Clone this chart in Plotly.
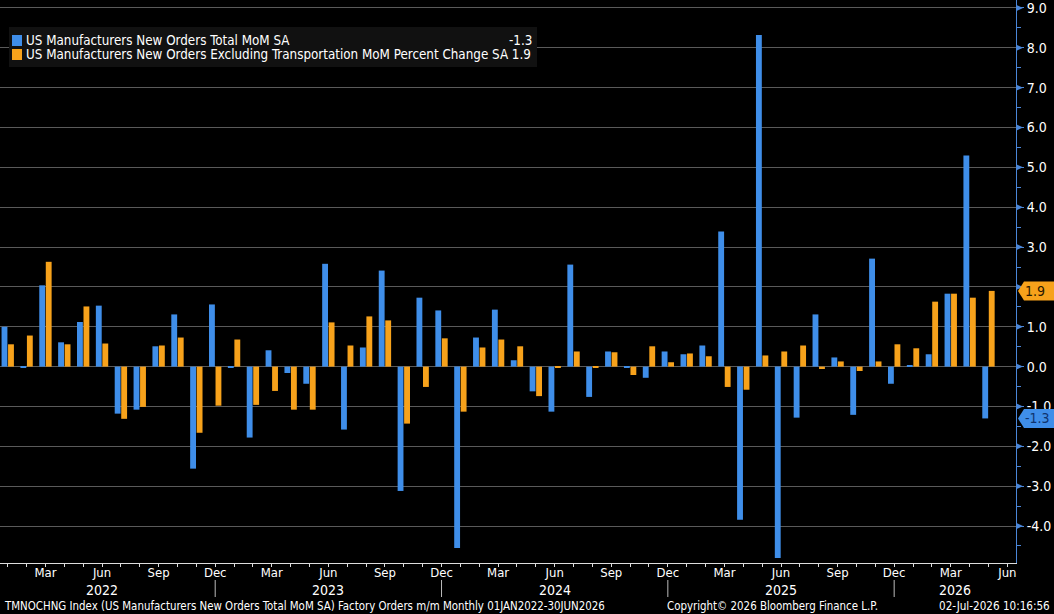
import plotly.graph_objects as go
import pandas as pd

# ---------------- data ----------------
months = pd.date_range("2022-01-01", "2026-05-01", freq="MS")
axis_months = pd.date_range("2022-01-01", "2026-06-01", freq="MS")
total_mom = [1.00, -0.03, 2.04, 0.61, 1.12, 1.53, -1.18, -1.08, 0.51, 1.31, -2.56, 1.56,
             -0.03, -1.78, 0.41, -0.16, -0.43, 2.58, -1.58, 0.48, 2.41, -3.12, 1.73, 1.41,
             -4.55, 0.73, 1.43, 0.16, -0.62, -1.13, 2.56, -0.76, 0.38, -0.01, -0.28, 0.38,
             0.31, 0.53, 3.39, -3.84, 8.32, -4.80, -1.28, 1.31, 0.23, -1.21, 2.71, -0.43,
             0.03, 0.31, 1.83, 5.30, -1.30]
ex_transport = [0.56, 0.78, 2.63, 0.56, 1.51, 0.58, -1.31, -1.01, 0.53, 0.73, -1.66, -0.98,
                0.68, -0.96, -0.61, -1.08, -1.08, 1.11, 0.53, 1.26, 1.16, -1.43, -0.51, 0.71,
                -1.13, 0.48, 0.68, 0.51, -0.74, -0.03, 0.38, -0.02, 0.36, -0.21, 0.51, 0.11,
                0.33, 0.26, -0.51, -0.58, 0.28, 0.38, 0.53, -0.06, 0.13, -0.11, 0.13, 0.56,
                0.46, 1.63, 1.83, 1.73, 1.90]
series_names = ["US Manufacturers New Orders Total MoM SA",
                "US Manufacturers New Orders Excluding Transportation MoM Percent Change SA"]
y_ticks = list(range(-4, 10))
footer_left = "TMNOCHNG Index (US Manufacturers New Orders Total MoM SA) Factory Orders m/m Monthly 01JAN2022-30JUN2026"
footer_mid = "Copyright\u00a9 2026 Bloomberg Finance L.P."
footer_right = "02-Jul-2026 10:16:56"

# ---------------- style ----------------
W, H = 1054, 614
ML, MR, MT, MB = 0, 38, 0, 51
PW, PH = W - ML - MR, H - MT - MB
BLUE = "#3f8ee9"
ORANGE = "#f7a21b"
AXBLUE = "#4a86d8"
GRID = "#5a5a5a"
FONT = "DejaVu Sans Condensed, Liberation Sans Narrow, Arial Narrow, sans-serif"

def px(xp):
    return (xp - ML) / PW

def py(yp):
    return (PH - (yp - MT)) / PH

x = list(range(len(months)))
ax_x = list(range(len(axis_months)))
ticktext = [m.strftime("%b") if m.month in (3, 6, 9, 12) else "" for m in axis_months]

fig = go.Figure()
fig.add_trace(go.Bar(x=x, y=total_mom, name=series_names[0], marker=dict(color=BLUE, line=dict(width=0))))
fig.add_trace(go.Bar(x=x, y=ex_transport, name=series_names[1], marker=dict(color=ORANGE, line=dict(width=0))))

ymax = 9.2
ymin = ymax - PH / 39.85
unit = PH / (ymax - ymin)

shapes = []
annotations = []

# triangle markers on the right axis
th = 3.2 / unit
for v in y_ticks:
    shapes.append(dict(type="path", xref="paper", yref="y",
                       path=f"M 1.0,{v + th} L {px(ML + PW + 7)},{v} L 1.0,{v - th} Z",
                       fillcolor=AXBLUE, line=dict(width=0), layer="above"))

# last value labels
last_vals = [(ex_transport[-1], ORANGE, "#2a1800"), (total_mom[-1], BLUE, "#0f336e")]
def last_label(val, color, txtcolor):
    hh = 9.5 / unit
    x0, x1, x2 = px(ML + PW + 2), px(ML + PW + 8), px(W)
    shapes.append(dict(type="path", xref="paper", yref="y",
                       path=f"M {x0},{val} L {x1},{val + hh} L {x2},{val + hh} L {x2},{val - hh} L {x1},{val - hh} Z",
                       fillcolor=color, line=dict(width=0), layer="above"))
    annotations.append(dict(x=px(ML + PW + 7), y=val, xref="paper", yref="y", text=f"{val:.1f}",
                            showarrow=False, xanchor="left", yanchor="middle",
                            font=dict(family=FONT, size=14, color=txtcolor)))

for v, c, t in last_vals:
    last_label(v, c, t)

# tick labels fully hidden behind a last-value label in the reference
hidden = {round(v) for v, _, _ in last_vals if abs(v - round(v)) < 0.15}
yticktext = ["" if v in hidden else f"{v:.1f}" for v in y_ticks]

# legend box
shapes.append(dict(type="rect", xref="paper", yref="paper", x0=px(9), x1=px(537), y0=py(67), y1=py(27),
                   fillcolor="#111111", line=dict(width=0), layer="above"))
for col, yc in [(BLUE, 40.5), (ORANGE, 54.5)]:
    shapes.append(dict(type="rect", xref="paper", yref="paper", x0=px(12), x1=px(22),
                       y0=py(yc + 5.5), y1=py(yc - 5.5), fillcolor=col, line=dict(width=0), layer="above"))
annotations.append(dict(x=px(24), y=py(40.5), xref="paper", yref="paper", text=series_names[0],
                        showarrow=False, xanchor="left", yanchor="middle",
                        font=dict(family=FONT, size=13.3, color="white")))
annotations.append(dict(x=px(24), y=py(54.5), xref="paper", yref="paper",
                        text=f"{series_names[1]} {ex_transport[-1]:.1f}",
                        showarrow=False, xanchor="left", yanchor="middle",
                        font=dict(family=FONT, size=13.3, color="white")))
annotations.append(dict(x=px(534), y=py(40.5), xref="paper", yref="paper", text=f"{total_mom[-1]:.1f}",
                        showarrow=False, xanchor="right", yanchor="middle",
                        font=dict(family=FONT, size=13.3, color="white")))

# year labels and separators
years = sorted(set(m.year for m in axis_months))
xr0, xr1 = -0.41, 53.46
seps = [i for i, m in enumerate(axis_months) if m.month == 12]
bounds = [xr0 - 0.6] + seps + [xr1]
for k, yr in enumerate(years):
    lo, hi = bounds[k], bounds[k + 1]
    annotations.append(dict(x=(lo + hi) / 2, y=py(590), xref="x", yref="paper", text=str(yr),
                            showarrow=False, xanchor="center", yanchor="middle",
                            font=dict(family=FONT, size=14, color="white")))
for s in seps:
    shapes.append(dict(type="line", xref="x", yref="paper", x0=s, x1=s, y0=py(580), y1=py(597),
                       line=dict(color="#bbbbbb", width=1)))

# footer
annotations.append(dict(x=px(2), y=py(606), xref="paper", yref="paper", text=footer_left, showarrow=False,
                        xanchor="left", yanchor="middle", font=dict(family=FONT, size=11.4, color="white")))
annotations.append(dict(x=px(665), y=py(606), xref="paper", yref="paper", text=footer_mid, showarrow=False,
                        xanchor="left", yanchor="middle", font=dict(family=FONT, size=11.4, color="white")))
annotations.append(dict(x=px(1052), y=py(606), xref="paper", yref="paper", text=footer_right, showarrow=False,
                        xanchor="right", yanchor="middle", font=dict(family=FONT, size=11.6, color="white")))

fig.update_layout(
    width=W, height=H,
    margin=dict(l=ML, r=MR, t=MT, b=MB, pad=0),
    paper_bgcolor="black", plot_bgcolor="black",
    barmode="group", bargap=0.31, bargroupgap=0.1,
    showlegend=False, hovermode=False,
    font=dict(family=FONT, color="white"),
    xaxis=dict(range=[xr0, xr1], tickmode="array", tickvals=ax_x, ticktext=ticktext,
               ticks="outside", ticklen=3, tickcolor="#dddddd", showline=True, linecolor="#dddddd",
               linewidth=1, showgrid=False, zeroline=False, ticklabelstandoff=-6,
               ticklabeloverflow="allow",
               tickfont=dict(family=FONT, size=13, color="white")),
    yaxis=dict(side="right", range=[ymin, ymax], tickmode="array", tickvals=y_ticks,
               ticktext=yticktext, ticklabeloverflow="allow",
               showgrid=True, gridcolor=GRID, gridwidth=1, zeroline=True, zerolinecolor=GRID,
               zerolinewidth=1, showline=True, linecolor=AXBLUE, linewidth=1,
               ticks="outside", ticklen=7, tickcolor=AXBLUE,
               minor=dict(dtick=0.5, tick0=0, ticks="outside", ticklen=4, tickcolor=AXBLUE, showgrid=False),
               tickfont=dict(family=FONT, size=14, color="white")),
    shapes=shapes, annotations=annotations,
)

fig.write_html("out.html")
